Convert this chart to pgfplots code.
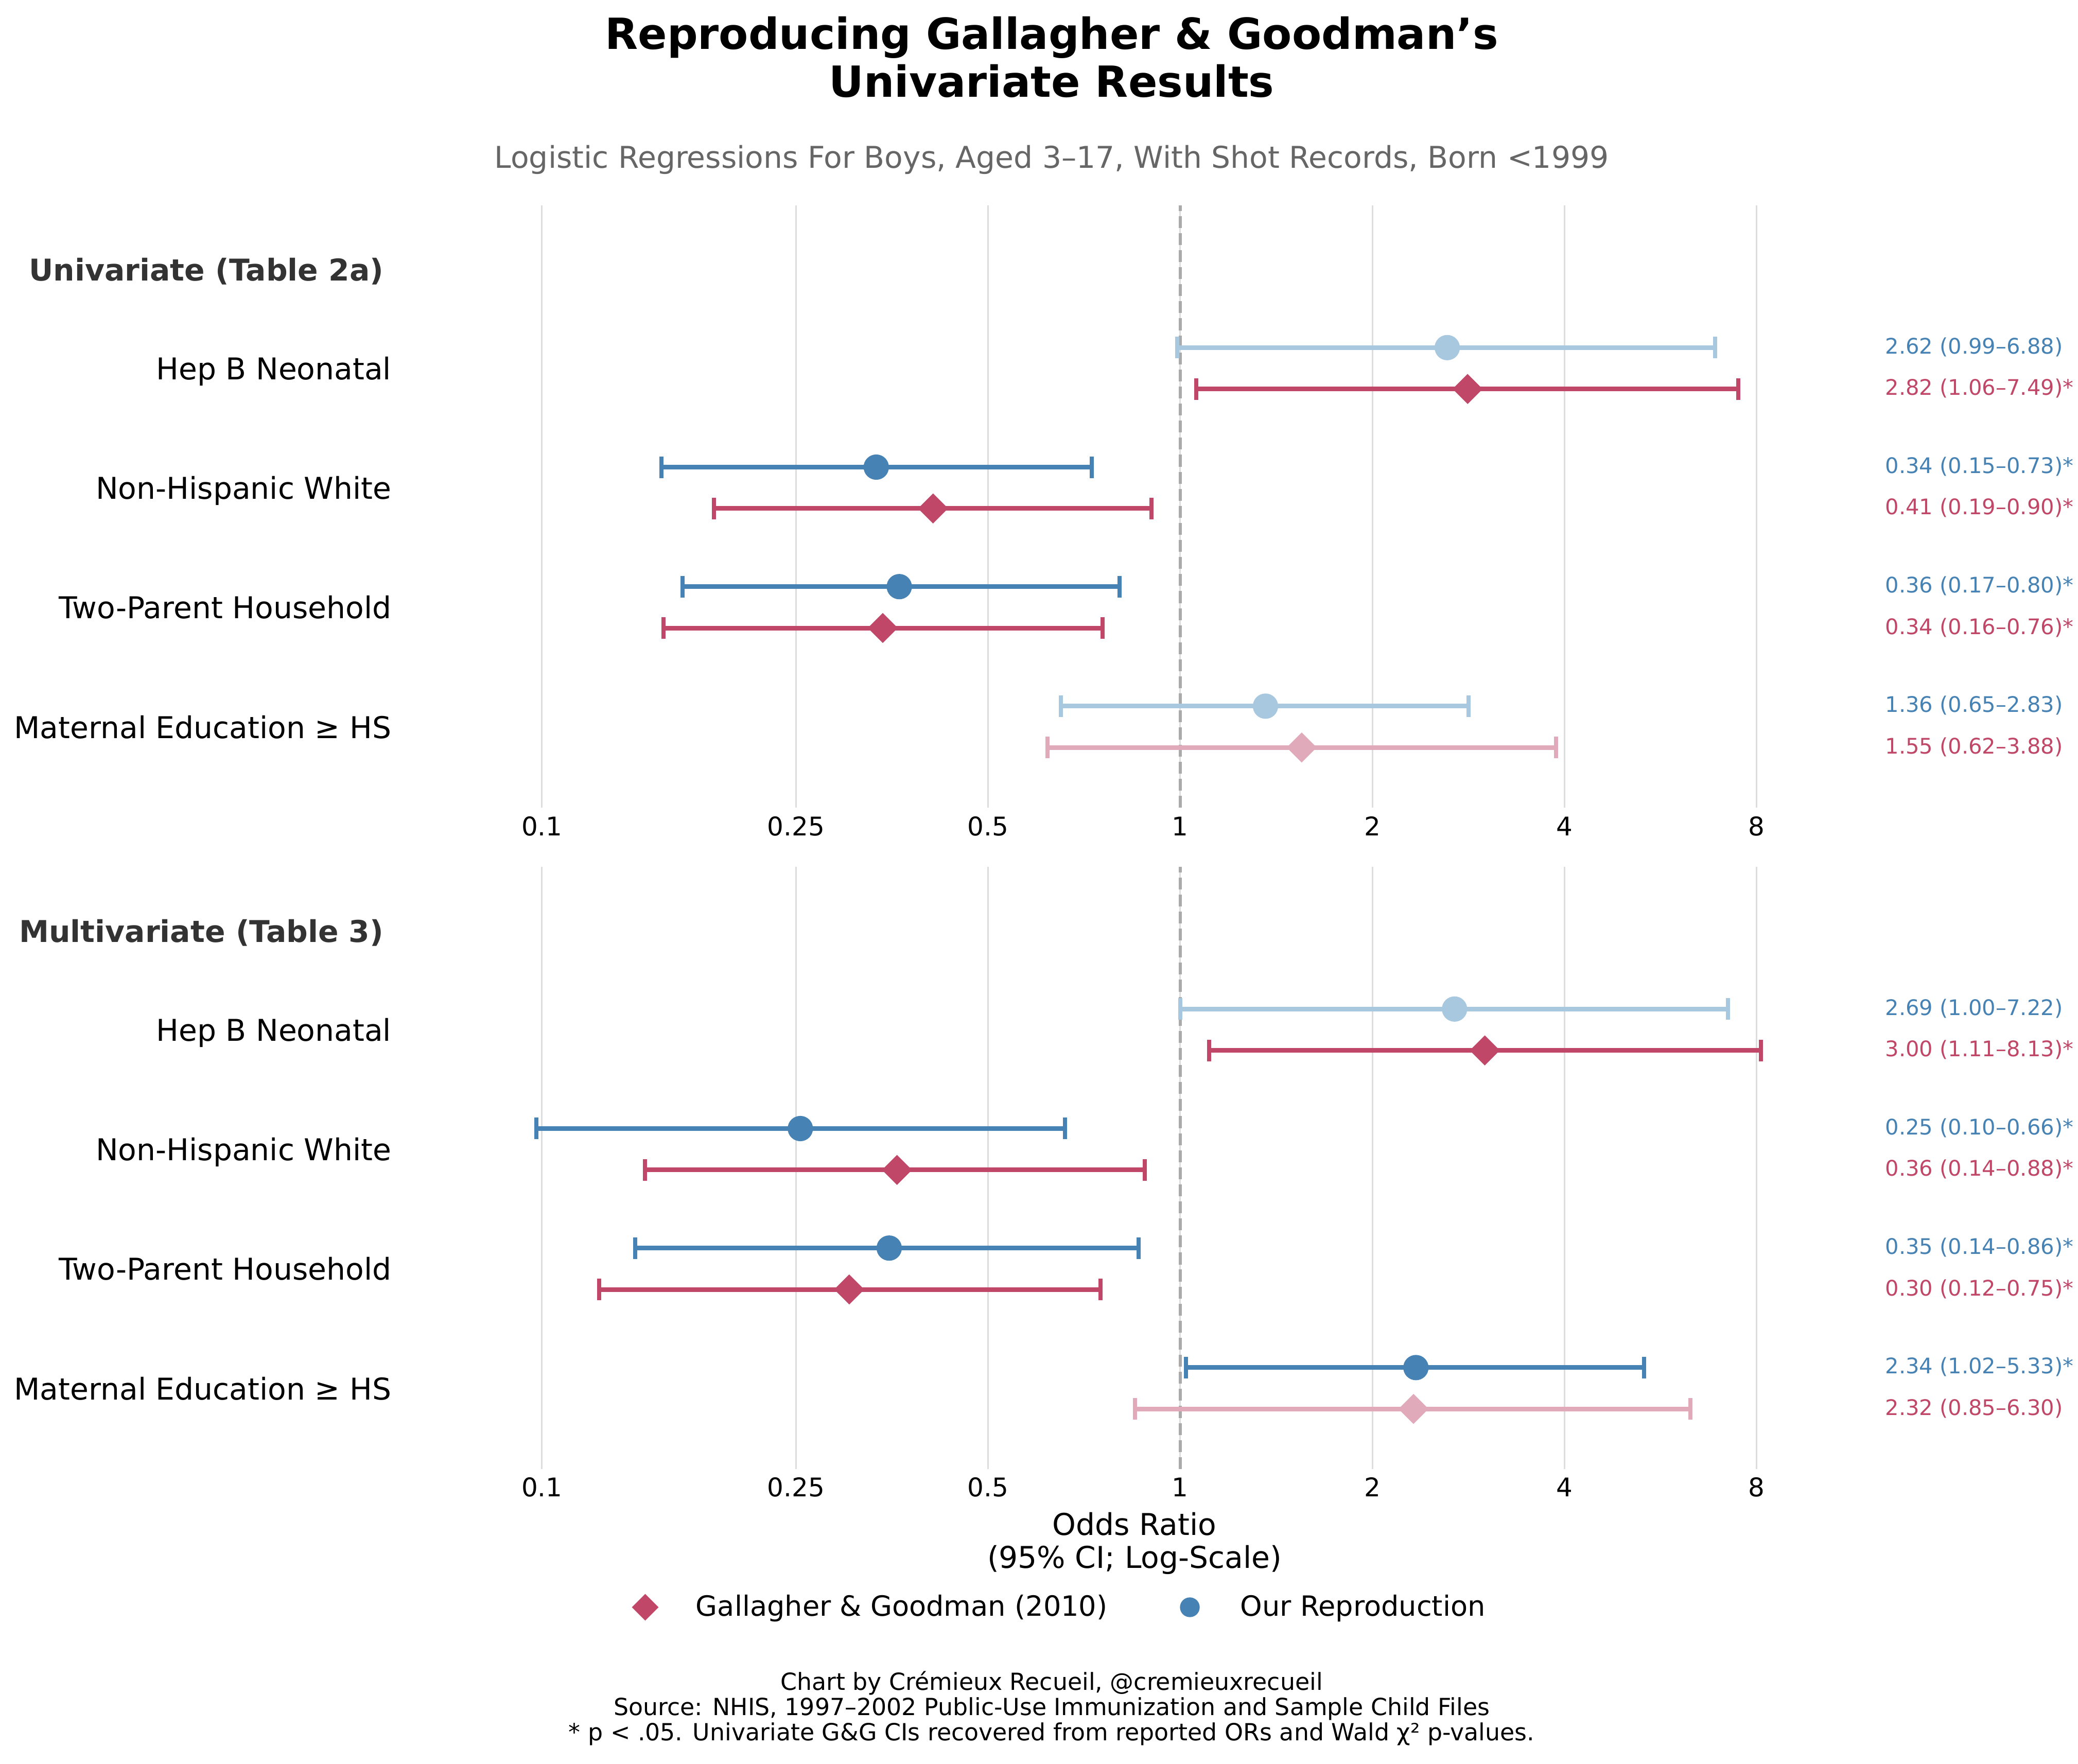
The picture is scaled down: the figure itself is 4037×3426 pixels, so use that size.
\documentclass[border=0pt]{standalone}
\usepackage{fontspec}
\setmainfont{DejaVu Sans}
\usepackage{pgfplots}
\pgfplotsset{compat=1.18}

\definecolor{gg}{RGB}{192,71,104}
\definecolor{gglight}{RGB}{225,170,187}
\definecolor{our}{RGB}{70,130,180}
\definecolor{ourlight}{RGB}{168,200,223}
\definecolor{gridgray}{RGB}{221,221,221}
\definecolor{refgray}{RGB}{170,170,170}
\definecolor{hdr}{RGB}{51,51,51}
\definecolor{subgray}{RGB}{102,102,102}

\newcommand{\fs}[1]{\fontsize{#1}{#1}\selectfont}

% one confidence interval: colour, lower, upper, row position
\newcommand{\ci}[4]{\addplot[forget plot, color=#1, line width=2.16pt, mark=|, mark size=5.04pt,
  mark options={solid, line width=1.92pt}] coordinates {(#2,#4) (#3,#4)};}
% text to the right of a row
\newcommand{\lab}[3]{\node[anchor=base west, inner sep=0pt, text=#1, font=\fs{10}, yshift=-2.88pt]
  at (axis cs:12.7,#2) {#3};}

\begin{document}
\begin{tikzpicture}
\begin{scope}[x=0.24pt, y=-0.24pt]
\fill[white] (0,0) rectangle (4037,3426);
\end{scope}

% ---- univariate ----
\begin{axis}[at={(186.65pt,-376.56pt)},
    scale only axis, width=684.84pt, height=280.8pt, anchor=south west,
    xmode=log, xmin=0.06, xmax=12, ymin=-0.676, ymax=4.363,
    axis line style={draw=none}, major tick length=0pt,
    xtick={0.1,0.25,0.5,1,2,4,8}, xticklabels={0.1,0.25,0.5,1,2,4,8},
    xmajorgrids, major grid style={color=gridgray, line width=0.7pt},
    extra x ticks={1}, extra x tick labels={},
    extra x tick style={grid=major, major grid style={color=refgray, line width=1.5pt,
      dash pattern=on 5.55pt off 2.4pt}},
    ytick={0,1,2,3},
    yticklabels={Maternal Education ≥ HS, Two-Parent Household, Non-Hispanic White, Hep B Neonatal},
    xticklabel style={font=\fs{12}, anchor=base, inner sep=0pt, yshift=-12.96pt},
    yticklabel style={font=\fs{14}, anchor=base east, inner sep=0pt, xshift=-4pt, yshift=-5.28pt},
    clip=false]
\ci{ourlight}{0.99}{6.88}{3.173}
\ci{gg}{1.06}{7.49}{2.827}
\ci{our}{0.154}{0.727}{2.173}
\ci{gg}{0.186}{0.902}{1.827}
\ci{our}{0.166}{0.804}{1.173}
\ci{gg}{0.155}{0.756}{0.827}
\ci{ourlight}{0.65}{2.83}{0.173}
\ci{gglight}{0.62}{3.88}{-0.173}
\addplot[forget plot, only marks, mark=*, color=our, mark size=5.7pt] coordinates {(0.334,2.173) (0.363,1.173)};
\addplot[forget plot, only marks, mark=*, color=ourlight, mark size=5.7pt] coordinates {(2.62,3.173) (1.36,0.173)};
\addplot[forget plot, only marks, mark=square*, color=gg, mark size=4.75pt, mark options={rotate=45}] coordinates {(2.82,2.827) (0.41,1.827) (0.342,0.827)};
\addplot[forget plot, only marks, mark=square*, color=gglight, mark size=4.75pt, mark options={rotate=45}] coordinates {(1.55,-0.173)};
\lab{our}{3.173}{2.62 (0.99–6.88)}
\lab{gg}{2.827}{2.82 (1.06–7.49)*}
\lab{our}{2.173}{0.34 (0.15–0.73)*}
\lab{gg}{1.827}{0.41 (0.19–0.90)*}
\lab{our}{1.173}{0.36 (0.17–0.80)*}
\lab{gg}{0.827}{0.34 (0.16–0.76)*}
\lab{our}{0.173}{1.36 (0.65–2.83)}
\lab{gg}{-0.173}{1.55 (0.62–3.88)}
\node[anchor=base east, inner sep=0pt, font=\fs{14}\bfseries, text=hdr, xshift=-7.6pt]
  at (axis cs:0.06,3.734) {Univariate (Table 2a)};
\end{axis}

% ---- multivariate ----
\begin{axis}[at={(186.65pt,-684.96pt)},
    scale only axis, width=684.84pt, height=280.8pt, anchor=south west,
    xmode=log, xmin=0.06, xmax=12, ymin=-0.676, ymax=4.363,
    axis line style={draw=none}, major tick length=0pt,
    xtick={0.1,0.25,0.5,1,2,4,8}, xticklabels={0.1,0.25,0.5,1,2,4,8},
    xmajorgrids, major grid style={color=gridgray, line width=0.7pt},
    extra x ticks={1}, extra x tick labels={},
    extra x tick style={grid=major, major grid style={color=refgray, line width=1.5pt,
      dash pattern=on 5.55pt off 2.4pt}},
    ytick={0,1,2,3},
    yticklabels={Maternal Education ≥ HS, Two-Parent Household, Non-Hispanic White, Hep B Neonatal},
    xticklabel style={font=\fs{12}, anchor=base, inner sep=0pt, yshift=-12.96pt},
    yticklabel style={font=\fs{14}, anchor=base east, inner sep=0pt, xshift=-4pt, yshift=-5.28pt},
    clip=false,
    legend columns=2,
    legend image code/.code={\path[draw=none, fill=none] (-6pt,-6pt) rectangle (6pt,6pt); \draw[#1] plot coordinates {(0pt,0pt)};},
    legend style={at={(0.158,-0.2295)}, anchor=west, draw=none, fill=none, inner sep=0pt, outer sep=0pt,
      font=\fs{13}, nodes={inner sep=0pt},
      /tikz/every odd column/.append style={column sep=17.6pt},
      /tikz/every even column/.append style={column sep=32.4pt}}]
\addlegendimage{only marks, mark=square*, color=gg, mark size=4.2pt, mark options={rotate=45}}
\addlegendentry{Gallagher \& Goodman (2010)}
\addlegendimage{only marks, mark=*, color=our, mark size=4.4pt}
\addlegendentry{Our Reproduction}
\ci{ourlight}{1.00}{7.22}{3.173}
\ci{gg}{1.11}{8.13}{2.827}
\ci{our}{0.098}{0.66}{2.173}
\ci{gg}{0.145}{0.88}{1.827}
\ci{our}{0.14}{0.86}{1.173}
\ci{gg}{0.123}{0.75}{0.827}
\ci{our}{1.02}{5.33}{0.173}
\ci{gglight}{0.85}{6.30}{-0.173}
\addplot[forget plot, only marks, mark=*, color=our, mark size=5.7pt] coordinates {(0.254,2.173) (0.35,1.173) (2.34,0.173)};
\addplot[forget plot, only marks, mark=*, color=ourlight, mark size=5.7pt] coordinates {(2.69,3.173)};
\addplot[forget plot, only marks, mark=square*, color=gg, mark size=4.75pt, mark options={rotate=45}] coordinates {(3.00,2.827) (0.36,1.827) (0.303,0.827)};
\addplot[forget plot, only marks, mark=square*, color=gglight, mark size=4.75pt, mark options={rotate=45}] coordinates {(2.32,-0.173)};
\lab{our}{3.173}{2.69 (1.00–7.22)}
\lab{gg}{2.827}{3.00 (1.11–8.13)*}
\lab{our}{2.173}{0.25 (0.10–0.66)*}
\lab{gg}{1.827}{0.36 (0.14–0.88)*}
\lab{our}{1.173}{0.35 (0.14–0.86)*}
\lab{gg}{0.827}{0.30 (0.12–0.75)*}
\lab{our}{0.173}{2.34 (1.02–5.33)*}
\lab{gg}{-0.173}{2.32 (0.85–6.30)}
\node[anchor=base east, inner sep=0pt, font=\fs{14}\bfseries, text=hdr, xshift=-7.6pt]
  at (axis cs:0.06,3.734) {Multivariate (Table 3)};
\end{axis}

\begin{scope}[x=0.24pt, y=-0.24pt, every node/.style={inner sep=0pt, anchor=base}]
\node[font=\fs{20}\bfseries] at (2043,95) {Reproducing Gallagher \& Goodman’s};
\node[font=\fs{20}\bfseries] at (2043,188) {Univariate Results};
\node[font=\fs{14}, text=subgray] at (2043,326) {Logistic Regressions For Boys, Aged 3–17, With Shot Records, Born <1999};
\node[font=\fs{14}] at (2204,2982) {Odds Ratio};
\node[font=\fs{14}] at (2204,3046) {(95\% CI; Log-Scale)};
\node[font=\fs{11}] at (2043,3283) {Chart by Crémieux Recueil, @cremieuxrecueil};
\node[font=\fs{11}] at (2043,3332) {Source: NHIS, 1997–2002 Public-Use Immunization and Sample Child Files};
\node[font=\fs{11}] at (2043,3381) {* p < .05. Univariate G\&G CIs recovered from reported ORs and Wald χ² p-values.};
\end{scope}
\end{tikzpicture}
\end{document}
